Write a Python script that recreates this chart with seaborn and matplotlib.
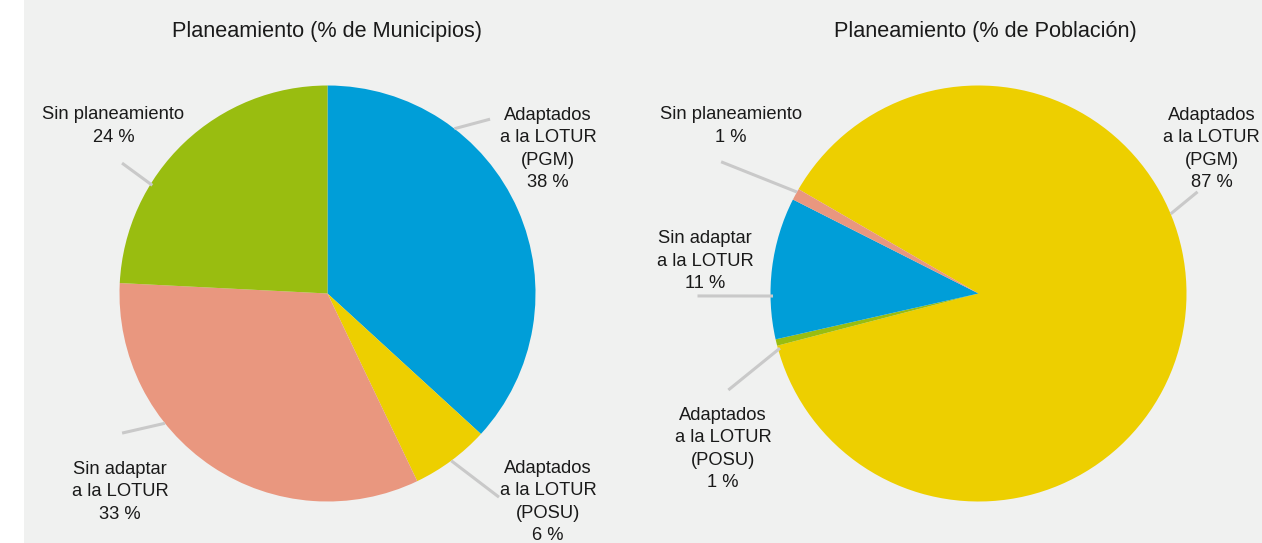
import numpy as np
import matplotlib
matplotlib.use("Agg")
import matplotlib.pyplot as plt
import seaborn as sns

# categories (same order in both pies)
categories = [
    "Adaptados\na la LOTUR\n(PGM)",
    "Adaptados\na la LOTUR\n(POSU)",
    "Sin adaptar\na la LOTUR",
    "Sin planeamiento",
]
# percentages printed in the labels
pct_municipios = [38, 6, 33, 24]
pct_poblacion = [87, 1, 11, 1]
# wedge shares as measured on the drawn pies
share_municipios = [36.8, 6.1, 32.9, 24.2]
share_poblacion = [87.6, 0.5, 11.0, 0.9]

titles = ["Planeamiento (% de Municipios)", "Planeamiento (% de Población)"]

BLUE, YELLOW, SALMON, GREEN = "#009ed8", "#edcf00", "#e9977f", "#99bd10"
colors_municipios = [BLUE, YELLOW, SALMON, GREEN]
colors_poblacion = [YELLOW, GREEN, BLUE, SALMON]

sns.set_theme(style="white")
plt.rcParams["font.family"] = ["Liberation Sans", "DejaVu Sans"]

W, H, R = 1262, 543, 208.0
BG = "#f0f1f0"
LINE = "#c9c9c9"
TXT = "#1a1a1a"
FS = 13.2

fig = plt.figure(figsize=(W / 100, H / 100), dpi=100)
fig.patch.set_facecolor("white")
fig.patches.append(plt.Rectangle((24 / W, 0), 1 - 24 / W, 1, transform=fig.transFigure,
                                 facecolor=BG, edgecolor="none", zorder=-10))


def make_axes(cx, cy):
    # axes 600 px wide, full height, scaled so the pie radius is 1
    ax = fig.add_axes([(cx - 300) / W, 0, 600 / W, 1])
    ax.axis("off")
    ax.patch.set_alpha(0)
    return ax


def fix_limits(ax, cy):
    ax.set_xlim(-300 / R, 300 / R)
    ax.set_ylim(-(H - cy) / R, cy / R)
    ax.set_aspect("auto")


def polar(r, deg):
    a = np.deg2rad(deg)
    return r * np.cos(a), r * np.sin(a)


def label_text(cat, pct):
    return f"{cat}\n{pct} %"


def draw_labels(ax, pcts, anchors, leaders):
    for cat, pct, (lx, ly), (p0, p1) in zip(categories, pcts, anchors, leaders):
        ax.text(lx / R, (ly - 2) / R, label_text(cat, pct), ha="center", va="center",
                fontsize=FS, color=TXT, linespacing=1.42)
        x0, y0 = polar(*p0)
        x1, y1 = polar(*p1)
        ax.plot([x0, x1], [y0, y1], color=LINE, lw=2.2, solid_capstyle="butt")


# ---- left pie: municipios
ax1 = make_axes(327.5, 293.5)
ax1.pie(share_municipios, colors=colors_municipios, startangle=90, counterclock=False,
        radius=1, wedgeprops=dict(linewidth=0))
fix_limits(ax1, 293.5)

# label anchors in pixels relative to the centre, leader lines in polar units
left_labels = [(220.5, 146.5), (220.5, -206.5), (-207.5, -196.5), (-214, 169.5)]
left_leaders = [((1.0, 52.4), (1.146, 47.0)), ((1.0, -53.5), (1.28, -49.9)),
                ((1.0, 218.6), (1.194, 214.2)), ((0.99, 148.3), (1.17, 147.6))]
draw_labels(ax1, pct_municipios, left_labels, left_leaders)
ax1.text(0, (293.5 - 31) / R, titles[0], ha="center", va="center", fontsize=15.6, color=TXT)

# ---- right pie: poblacion
ax2 = make_axes(978.5, 293.5)
ax2.pie(share_poblacion, colors=colors_poblacion, startangle=149.9, counterclock=False,
        radius=1, wedgeprops=dict(linewidth=0))
fix_limits(ax2, 293.5)

right_labels = [(233, 146.5), (-255.5, -153.5), (-273.5, 34.5), (-247.5, 169.5)]
right_leaders = [((1.0, 22.5), (1.161, 24.9)), ((0.99, 195.4), (1.289, 201.1)),
                 ((0.988, 180.7), (1.351, 180.5)), ((1.0, 150.8), (1.39, 152.9))]
draw_labels(ax2, pct_poblacion, right_labels, right_leaders)
ax2.text(6.5 / R, (293.5 - 31) / R, titles[1], ha="center", va="center", fontsize=15.6, color=TXT)

fig.savefig("out.png", dpi=100, facecolor=fig.get_facecolor())
